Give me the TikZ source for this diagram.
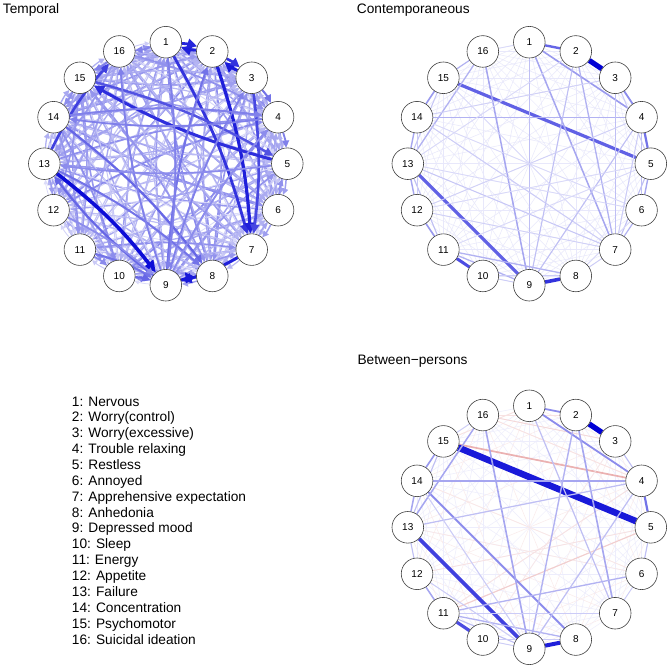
\documentclass[tikz,border=0pt]{standalone}
\usepackage{fontspec}
\setmainfont{Liberation Sans}
\usetikzlibrary{arrows.meta,calc}
\pgfdeclarelayer{bg}
\pgfsetlayers{bg,main}
\definecolor{pos}{RGB}{0,0,213}
\definecolor{neg}{RGB}{205,60,60}
\newcommand\uedge[5]{\draw[line width=#5pt, draw=#4!#3!white] (#1) -- (#2);}
\newcommand\dedge[4]{\draw[line width=#4pt, draw=pos!#3!white, -{Triangle[length=2.5pt 2.6,width=2.5pt 2.4]}] (#1) to[bend left=7] (#2);}
\begin{document}
\begin{tikzpicture}[x=1pt,y=-1pt,
  vert/.style={circle,draw=black!75,line width=0.6pt,fill=white,minimum size=31.6pt,inner sep=0pt,font=\fontsize{10}{12}\selectfont},
  ttl/.style={anchor=base west,inner sep=0pt,font=\fontsize{13.7}{16}\selectfont},
  leg/.style={anchor=base west,inner sep=0pt,font=\fontsize{13.7}{16}\selectfont}]
\useasboundingbox (0,0) rectangle (669,667);
\begin{pgfonlayer}{bg}
\fill[white] (0,0) rectangle (669,667);
\end{pgfonlayer}
% nodes
\foreach \p/\cx/\cy in {T/165.8/163.7, C/529.3/163.7, B/529.3/527.3}{
  \foreach \k in {1,...,16}{
    \node[vert] (\p\k) at ({\cx+121.5*cos((\k-1)*22.5-90)},{\cy+121.5*sin((\k-1)*22.5-90)}) {\k};
  }
}
% titles
\node[ttl] (tT) at (2.7,13.8) {Temporal};
\node[ttl] (tC) at (356.7,13.8) {Contemporaneous};
\node[ttl] (tB) at (357.3,364.5) {Between−persons};
% legend
\foreach \k/\txt in {1/Nervous,2/Worry(control),3/Worry(excessive),4/Trouble relaxing,5/Restless,6/Annoyed,7/Apprehensive expectation,8/Anhedonia,9/Depressed mood,10/Sleep,11/Energy,12/Appetite,13/Failure,14/Concentration,15/Psychomotor,16/Suicidal ideation}{
  \node[leg] (L\k) at (71.7,{406+(\k-1)*15.87}) {\k: \txt};
}
\begin{pgfonlayer}{bg}
% ---------- Temporal ----------
\pgfmathsetseed{42}
\foreach \i in {1,...,16}{
  \foreach \j in {1,...,16}{
    \ifnum\i=\j\else
      \pgfmathrandominteger{\c}{14}{46}
      \pgfmathsetmacro\lw{0.35+\c*0.03}
      \dedge{T\i}{T\j}{\c}{\lw}
    \fi
  }
}
\foreach \i/\j/\c/\w in {2/1/88/3.0,1/2/85/2.8,3/2/90/3.0,2/3/80/2.6,1/7/80/2.8,2/7/88/3.2,3/7/72/2.6,
  5/15/82/3.0,15/5/68/2.4,13/16/75/2.6,13/9/95/3.6,9/13/60/2.2,14/8/60/2.2,13/8/55/2.0,7/9/88/3.0,
  9/8/90/3.2,9/2/55/2.0,9/3/50/1.8,9/16/50/1.8,14/4/50/1.8,4/14/50/1.8,9/4/45/1.7,3/4/55/2.0,
  4/5/50/1.8,11/9/55/2.0,10/9/60/2.2,1/16/50/1.8,16/15/50/1.8,12/9/45/1.7,15/14/45/1.7,5/13/45/1.7,1/9/50/1.8}{
  \dedge{T\i}{T\j}{\c}{\w}
}
% ---------- Contemporaneous ----------
\foreach \i in {1,...,15}{
  \pgfmathtruncatemacro\s{\i+1}
  \foreach \j in {\s,...,16}{
    \uedge{C\i}{C\j}{9}{pos}{0.5}
  }
}
\foreach \i/\j/\c/\w in {1/2/60/2.4,2/3/100/5.2,3/4/45/1.8,4/5/55/2.2,5/6/35/1.4,6/7/30/1.2,7/8/20/0.9,
  8/9/80/3.6,9/10/20/0.9,10/11/70/3.0,11/12/40/1.6,12/13/35/1.4,13/14/35/1.4,14/15/40/1.6,15/16/30/1.2,
  16/1/15/0.8,1/4/40/1.6,15/5/62/3.2,13/9/62/3.2,14/4/30/1.4,1/7/35/1.5,1/9/25/1.2,16/9/35/1.5,
  2/7/30/1.3,2/9/25/1.1,3/7/25/1.1,16/13/30/1.3,11/9/30/1.3,11/8/30/1.3,13/7/22/1.0,14/7/20/1.0,
  4/9/25/1.1,4/12/18/0.9,5/12/15/0.8,6/13/15/0.8,3/14/18/0.9,2/13/15/0.8,15/7/15/0.8,5/11/15/0.8,
  14/6/15/0.8,12/7/18/0.9,10/8/20/1.0,13/11/25/1.1,14/12/20/1.0,15/13/22/1.0,5/7/25/1.1,4/6/25/1.1,
  3/5/20/1.0,4/7/20/1.0,6/8/15/0.8}{
  \uedge{C\i}{C\j}{\c}{pos}{\w}
}
% ---------- Between-persons ----------
\foreach \i in {1,...,15}{
  \pgfmathtruncatemacro\s{\i+1}
  \foreach \j in {\s,...,16}{
    \pgfmathtruncatemacro\r{mod(\i*7+\j*3,4)}
    \ifnum\r=0
      \uedge{B\i}{B\j}{10}{neg}{0.5}
    \else
      \uedge{B\i}{B\j}{7}{pos}{0.5}
    \fi
  }
}
\foreach \i/\j/\c/\w in {15/4/40/1.7,11/5/25/1.1,16/3/20/0.9,16/4/15/0.8,1/15/15/0.8,12/5/15/0.8,
  13/6/12/0.7,10/3/12/0.7,14/6/12/0.7,11/4/15/0.8,16/2/15/0.8}{
  \uedge{B\i}{B\j}{\c}{neg}{\w}
}
\foreach \i/\j/\c/\w in {1/2/45/1.8,2/3/100/5.4,3/4/25/1.1,4/5/55/2.2,5/6/25/1.1,6/7/20/0.9,8/9/88/4.0,
  9/10/20/0.9,10/11/70/3.2,11/12/35/1.5,12/13/25/1.1,13/14/35/1.5,14/15/40/1.6,15/16/20/0.9,1/4/45/1.8,
  15/5/90/6.5,13/9/75/3.8,14/4/35/1.6,14/8/45/1.9,16/9/35/1.6,2/9/30/1.4,2/7/35/1.6,1/7/25/1.2,
  16/13/35/1.5,11/9/25/1.1,11/8/30/1.3,11/6/30/1.3,13/4/25/1.2,9/4/25/1.2,10/8/20/1.0,12/9/20/1.0,
  11/7/20/1.0,14/9/20/1.0,15/13/25/1.1}{
  \uedge{B\i}{B\j}{\c}{pos}{\w}
}
\end{pgfonlayer}
\end{tikzpicture}
\end{document}
